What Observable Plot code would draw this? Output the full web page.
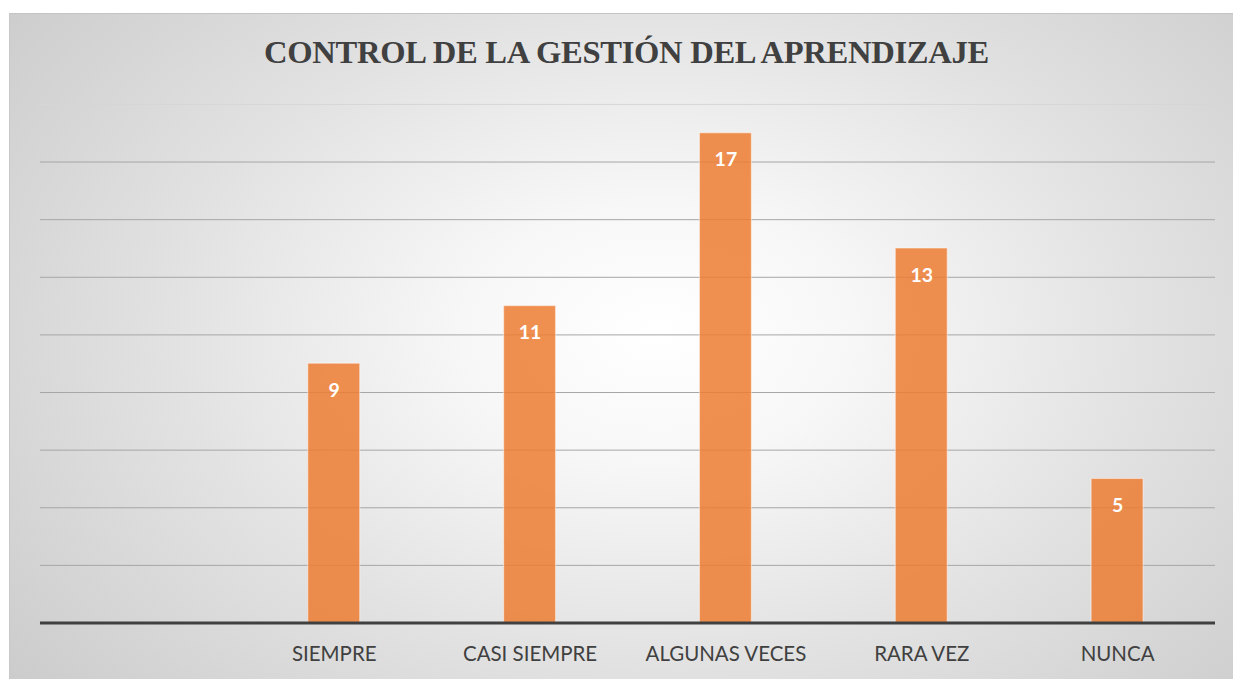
<!DOCTYPE html>
<html>
<head>
<meta charset="utf-8">
<script src="https://cdn.jsdelivr.net/npm/d3@7"></script>
<script src="https://cdn.jsdelivr.net/npm/@observablehq/plot@0.6"></script>
<style>
  html, body { margin: 0; padding: 0; background: #fff; width: 1233px; height: 679px; overflow: hidden; }
  #box {
    position: absolute; left: 9px; top: 13px; width: 1224px; height: 666px;
    background: radial-gradient(ellipse 72% 90% at 53% 48%, #ffffff 0%, #f7f7f7 22%, #e2e2e2 55%, #c8c8c8 100%);
    border-top: 1px solid #c4c4c4; border-left: 1px solid #c8c8c8; box-sizing: border-box;
  }
  #title {
    position: absolute; left: 5px; width: 100%; top: 20px; text-align: center;
    font-family: "Liberation Serif", "Times New Roman", serif; font-weight: bold;
    font-size: 32.6px; color: #404040; letter-spacing: -0.3px;
  }
  #chart { position: absolute; left: 0; top: 0; }
</style>
</head>
<body>
<div id="box">
  <div id="chart"></div>
  <div id="title">CONTROL DE LA GESTIÓN DEL APRENDIZAJE</div>
</div>
<script>
const categories = [" ", "SIEMPRE", "CASI SIEMPRE", "ALGUNAS VECES", "RARA VEZ", "NUNCA"];
const barCategories = ["SIEMPRE", "CASI SIEMPRE", "ALGUNAS VECES", "RARA VEZ", "NUNCA"];
const values = [9, 11, 17, 13, 5];
const gridTicks = [2, 4, 6, 8, 10, 12, 14, 16];
const topTick = [18];

const data = barCategories.map((c, i) => ({category: c, value: values[i]}));

const chart = Plot.plot({
  width: 1224,
  height: 666,
  marginLeft: 30,
  marginRight: 18,
  marginTop: 90,
  marginBottom: 57,
  style: {background: "transparent", fontFamily: "Lato, 'Open Sans', sans-serif", overflow: "visible"},
  x: {domain: categories, paddingInner: 0.735, paddingOuter: 0.3675, label: null},
  y: {domain: [0, 18], axis: null},
  marks: [
    Plot.ruleY(gridTicks, {stroke: "#a6a6a6", strokeWidth: 1}),
    Plot.ruleY(topTick, {stroke: "#d6d6d6", strokeWidth: 1}),
    Plot.barY(data, {x: "category", y: "value", fill: "#ED7D31", fillOpacity: 0.85, stroke: "#ffffff", strokeOpacity: 0.45, strokeWidth: 1.2}),
    Plot.text(data, {x: "category", y: "value", text: d => String(d.value), dy: 27, fill: "#ffffff", fontWeight: "bold", fontSize: 19.5}),
    Plot.ruleY([0], {stroke: "#404040", strokeWidth: 3}),
    Plot.axisX({tickSize: 0, tickPadding: 23, fontSize: 20.5, fill: "#404040"})
  ]
});
document.getElementById("chart").appendChild(chart);
</script>
</body>
</html>
